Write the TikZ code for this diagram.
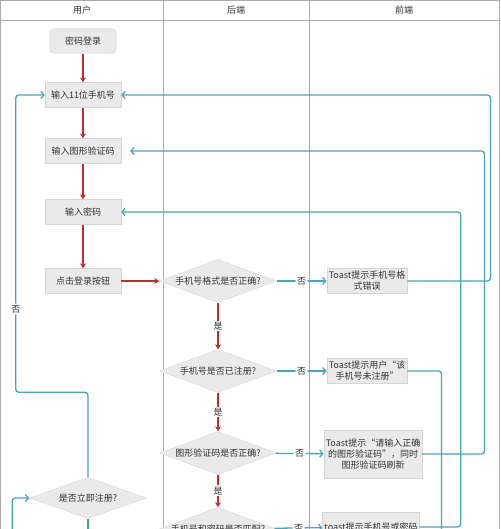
\documentclass[tikz,border=0pt]{standalone}
\usepackage{fontspec}
\setmainfont{Noto Sans CJK SC}
\usetikzlibrary{arrows.meta, shapes.geometric}

\definecolor{flowred}{HTML}{B8312F}
\definecolor{flowblue}{HTML}{4AA3B6}
\definecolor{boxfill}{HTML}{EAEAEA}
\definecolor{boxline}{HTML}{D5D5D5}
\definecolor{lanegray}{HTML}{ABABAB}
\definecolor{textgray}{HTML}{333333}

\tikzset{
  stepbox/.style={draw=boxline, fill=boxfill, minimum width=76pt, minimum height=25pt, inner sep=2pt, align=center},
  startbox/.style={stepbox, rounded corners=5pt, minimum width=67pt},
  decision/.style={diamond, draw=boxline, fill=boxfill, aspect=2.7, inner sep=0pt, minimum width=117pt, minimum height=43pt},
  yesflow/.style={draw=flowred, line width=1.3pt, -{Stealth[length=5pt,width=6pt]}},
  noflow/.style={draw=flowblue, line width=1.3pt, rounded corners=3pt, -{Straight Barb[length=3pt,width=7pt]}},
  flowlabel/.style={fill=white, inner sep=1.5pt, text=textgray}
}

\begin{document}
\begin{tikzpicture}[x=1pt, y=-1pt, font=\fontsize{9}{11}\selectfont, text=textgray]
\useasboundingbox (0,0) rectangle (500,529);
\clip (0,0) rectangle (500,529);

% swimlanes
\draw[lanegray] (0.5,560) -- (0.5,0.5) -- (499.5,0.5) -- (499.5,560);
\draw[lanegray] (0.5,20.5) -- (499.5,20.5);
\draw[lanegray] (163.5,0.5) -- (163.5,560);
\draw[lanegray] (309.5,0.5) -- (309.5,560);

\node (hUser) at (82,10) {用户};
\node (hBack) at (236,10) {后端};
\node (hFront) at (404,10) {前端};

% user lane
\node [startbox] (login) at (83,41) {密码登录};
\node [stepbox] (phone) at (83,95) {输入11位手机号};
\node [stepbox] (captcha) at (83,151) {输入图形验证码};
\node [stepbox] (pwd) at (83,212) {输入密码};
\node [stepbox] (submit) at (83,281) {点击登录按钮};
\node [decision, minimum height=41pt] (askReg) at (88,498) {是否立即注册?};

% back end lane
\node [decision] (chkFormat) at (218,281) {手机号格式是否正确?};
\node [decision] (chkReg) at (218,371) {手机号是否已注册?};
\node [decision] (chkCaptcha) at (218,453) {图形验证码是否正确?};
\node [decision] (chkMatch) at (218,529) {手机号和密码是否匹配?};

% front end lane
\node [stepbox] (tFormat) at (367,281) {Toast提示手机号格\\式错误};
\node [stepbox] (tReg) at (367,371) {Toast提示用户“该\\手机号未注册”};
\node [stepbox, minimum width=87pt, minimum height=48pt] (tCaptcha) at (373,454) {Toast提示“请输入正确\\的图形验证码”，同时\\图形验证码刷新};
\node [stepbox, minimum width=92pt, minimum height=30pt] (tMatch) at (371,527) {toast提示手机号或密码};

\coordinate (regGo) at (88,570);

\foreach \s/\t in {login/phone,
                   phone/captcha,
                   captcha/pwd,
                   pwd/submit,
                   submit/chkFormat}
    \draw [yesflow] (\s) -- (\t);

\foreach \s/\t in {chkFormat/chkReg,
                   chkReg/chkCaptcha,
                   chkCaptcha/chkMatch}
    \draw [yesflow] (\s) -- node[flowlabel] {是} (\t);

\foreach \s/\t in {chkFormat/tFormat,
                   chkReg/tReg,
                   chkCaptcha/tCaptcha,
                   chkMatch/tMatch}
    \draw [noflow] (\s) -- node[flowlabel] {否} (\t);

% back to the inputs
\draw [noflow] (tFormat.east) -- ++(83,0) |- (phone.east);
\draw [noflow, shorten >=9pt] (tCaptcha.east) -- ++(62,0) |- (captcha.east);
\draw [noflow] (tMatch.east) -- ++(41,0) |- (pwd.east);
\draw [noflow] (tReg.east) -| ++(34,200) -| ([xshift=-17pt]askReg.west) -- (askReg.west);
\draw [noflow] (askReg.north) -- ++(0,-85) -| node[pos=0.64, flowlabel] {否} ([xshift=-29pt]phone.west) -- (phone.west);
\draw [noflow] (askReg.south) -- (regGo);

\end{tikzpicture}
\end{document}
